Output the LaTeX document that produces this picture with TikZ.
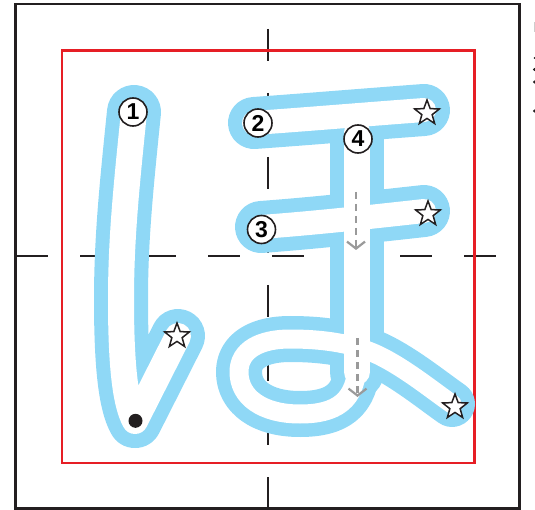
\documentclass[tikz,border=0pt]{standalone}
\usepackage{fontspec}
\setmainfont{Liberation Sans}
\usetikzlibrary{shapes.geometric,arrows.meta}
\definecolor{strokeblue}{HTML}{8FD8F6}
\definecolor{framered}{HTML}{E61E25}
\definecolor{frameblack}{HTML}{231F20}
\definecolor{guidegray}{HTML}{9A9A9A}
\newcommand\hoglyph[3]{%
  % stroke 1
  \draw[#1] (134,112) .. controls (126,190) and (121,240) .. (121,300)
     .. controls (121,370) and (126,405) .. (135,421) -- (178,336);
  % stroke 2 and 3
  \draw[#2] (254,123) .. controls (310,119) and (370,114) .. (424,110);
  \draw[#2] (261,227) .. controls (315,223) and (370,217) .. (424,211);
  % stroke 4: vertical
  \draw[#1] (357,132) -- (357,372);
  % stroke 4: loop and tail
  \draw[#3] (357,362) .. controls (357,402) and (335,414) .. (300,414)
     .. controls (262,414) and (239,397) .. (239,372)
     .. controls (239,350) and (260,339) .. (290,339)
     .. controls (322,339) and (352,343) .. (378,355)
     .. controls (405,368) and (432,390) .. (452,404);
}
\begin{document}
\begin{tikzpicture}[x=1pt,y=-1pt,
  wideout/.style={draw=strokeblue,line width=54pt,line cap=round,line join=round},
  widein/.style={draw=white,line width=26pt,line cap=round,line join=round},
  barout/.style={draw=strokeblue,line width=52pt,line cap=round,line join=round},
  barin/.style={draw=white,line width=24pt,line cap=round,line join=round},
  loopout/.style={draw=strokeblue,line width=46pt,line cap=round,line join=round},
  loopin/.style={draw=white,line width=19pt,line cap=round,line join=round},
  guide/.style={draw=frameblack,line width=2pt},
  numcircle/.style={circle,draw=frameblack,line width=1.6pt,fill=white,minimum size=28pt,inner sep=0pt,font=\bfseries\fontsize{23}{23}\selectfont},
  starmark/.style={star,star points=5,star point ratio=2.4,draw=frameblack,line width=1.5pt,fill=white,minimum size=26pt,inner sep=0pt},
  enddot/.style={circle,fill=frameblack,minimum size=14pt,inner sep=0pt},
  dirarrow/.style={draw=guidegray,line width=2.2pt,dash pattern=on 7pt off 5pt,-{Straight Barb[length=7pt,width=18pt,line width=2.2pt]}},
  edgebit/.style={fill=frameblack}
]
\useasboundingbox (0,0) rectangle (535,510);
% guide lines
\coordinate (vtop) at (268,29);
\coordinate (vbot) at (268,509);
\coordinate (hleft) at (16,256.5);
\coordinate (hright) at (520,256.5);
\draw[guide,dash pattern=on 32pt off 32pt] (vtop) -- (vbot);
\draw[guide,dash pattern=on 32pt off 32pt] (hleft) -- (hright);
% outer frame
\draw[draw=frameblack,line width=2.4pt] (15.5,4.3) rectangle (519.5,508.5);
% red box
\draw[draw=framered,line width=2.6pt] (62,50.3) rectangle (474.7,463);
% strokes
\hoglyph{wideout}{barout}{loopout}
\hoglyph{widein}{barin}{loopin}
% direction arrows
\coordinate (a1s) at (356,192);
\coordinate (a1e) at (356,250);
\coordinate (a2s) at (357.5,338);
\coordinate (a2e) at (357.5,397);
\draw[dirarrow] (a1s) -- (a1e);
\draw[dirarrow] (a2s) -- (a2e);
% numbers
\node[numcircle] (n1) at (133,112) {1};
\node[numcircle] (n2) at (258,123) {2};
\node[numcircle] (n3) at (261.5,229.5) {3};
\node[numcircle] (n4) at (358,139) {4};
% stars
\node[starmark] (s1) at (177,336) {};
\node[starmark] (s2) at (427,113) {};
\node[starmark] (s3) at (428,214) {};
\node[starmark] (s4) at (455,407) {};
% start dot
\node[enddot] (d1) at (135.5,420.8) {};
% cut-off fragments at right edge
\fill[guidegray!50] (534,22) rectangle (535,32);
\fill[edgebit] (534.5,58) circle (1pt);
\fill[edgebit] (534.5,69.5) circle (1.6pt);
\fill[edgebit] (534.5,82) circle (1.6pt);
\fill[edgebit] (534.5,111) circle (1.6pt);
\end{tikzpicture}
\end{document}
